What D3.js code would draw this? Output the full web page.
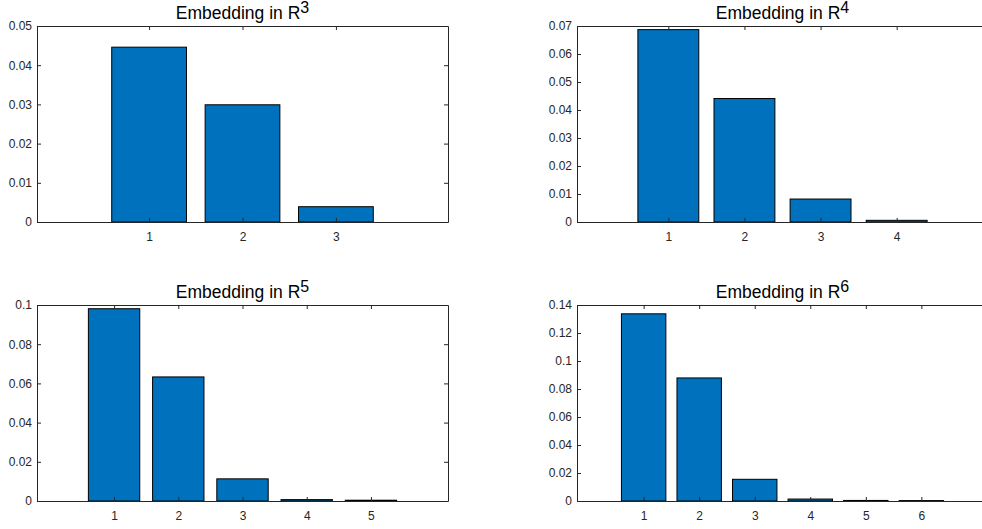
<!DOCTYPE html>
<html>
<head>
<meta charset="utf-8">
<script src="https://cdn.jsdelivr.net/npm/d3@7"></script>
<style>
  body { margin: 0; background: #fff; }
  svg { display: block; font-family: "Liberation Sans", Arial, sans-serif; }
</style>
</head>
<body>
<div id="chart"></div>
<script>
// values
const r3Values = [0.0446, 0.0299, 0.0039];
const r4Values = [0.0687, 0.0441, 0.0082, 0.0006];
const r5Values = [0.0981, 0.0633, 0.0113, 0.0007, 0.0004];
const r6Values = [0.1337, 0.0879, 0.0155, 0.0014, 0.0004, 0.0003];

const dims = [3, 4, 5, 6];
const seriesList = [r3Values, r4Values, r5Values, r6Values];
const yTickLists = [
    [0, 0.01, 0.02, 0.03, 0.04, 0.05],
    [0, 0.01, 0.02, 0.03, 0.04, 0.05, 0.06, 0.07],
    [0, 0.02, 0.04, 0.06, 0.08, 0.1],
    [0, 0.02, 0.04, 0.06, 0.08, 0.1, 0.12, 0.14]
];

const W = 982, H = 529;
const panelW = 411, panelH = 196;
const panelPos = [
    { left: 37, top: 26 },
    { left: 577, top: 26 },
    { left: 37, top: 305 },
    { left: 577, top: 305 }
];

const svg = d3.select("#chart")
    .append("svg")
    .attr("width", W)
    .attr("height", H);

const fmt = d => String(+d.toFixed(4));

function drawPanel(i) {
    const values = seriesList[i];
    const ticks = yTickLists[i];
    const n = values.length;
    const g = svg.append("g")
        .attr("transform", `translate(${panelPos[i].left},${panelPos[i].top})`);

    const x = d3.scaleLinear().domain([-0.2, n + 1.2]).range([0, panelW]);
    const y = d3.scaleLinear().domain([0, ticks[ticks.length - 1]]).range([panelH, 0]);
    const cats = d3.range(1, n + 1);

    g.selectAll(".bar")
        .data(values)
        .enter().append("rect")
        .attr("class", "bar")
        .attr("x", (d, j) => x(cats[j] - 0.4))
        .attr("y", d => y(d))
        .attr("width", x(0.8) - x(0))
        .attr("height", d => y(0) - y(d))
        .attr("fill", "#0072bd")
        .attr("stroke", "#000")
        .attr("stroke-width", 1);

    const axisColor = "#262626";

    // left axis with labels
    g.append("g")
        .call(d3.axisLeft(y).tickValues(ticks).tickFormat(fmt).tickSizeInner(-4).tickSizeOuter(0).tickPadding(5));
    // right axis, ticks only
    g.append("g")
        .attr("transform", `translate(${panelW},0)`)
        .call(d3.axisRight(y).tickValues(ticks).tickFormat("").tickSizeInner(-4).tickSizeOuter(0));
    // bottom axis with labels
    g.append("g")
        .attr("transform", `translate(0,${panelH})`)
        .call(d3.axisBottom(x).tickValues(cats).tickFormat(d3.format("d")).tickSizeInner(-4).tickSizeOuter(0).tickPadding(10));
    // top axis, ticks only
    g.append("g")
        .call(d3.axisTop(x).tickValues(cats).tickFormat("").tickSizeInner(-4).tickSizeOuter(0));

    g.selectAll(".domain, .tick line").attr("stroke", axisColor).attr("stroke-width", 1);
    g.selectAll(".tick text").attr("fill", axisColor).style("font-size", "12px")
        .style("font-family", "'Liberation Sans', Arial, sans-serif");

    const title = g.append("text")
        .attr("x", panelW / 2)
        .attr("y", -7.5)
        .attr("text-anchor", "middle")
        .attr("fill", "#000")
        .style("font-size", "17.5px");
    title.append("tspan").text("Embedding in R");
    title.append("tspan")
        .attr("dy", -6)
        .style("font-size", "16px")
        .text(dims[i]);
}

dims.forEach((d, i) => drawPanel(i));
</script>
</body>
</html>
